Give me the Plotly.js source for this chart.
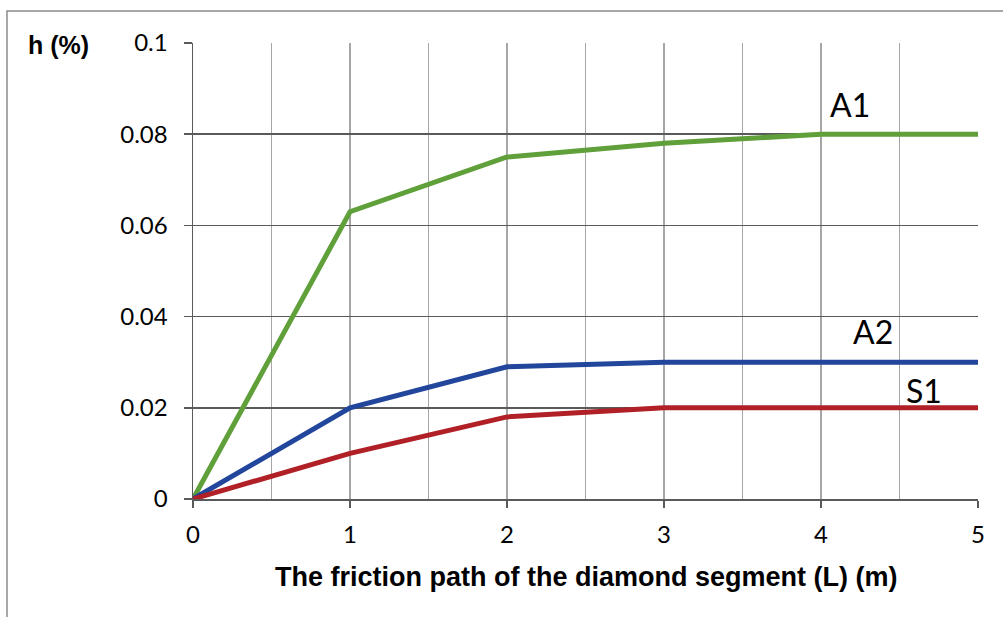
<!DOCTYPE html>
<html>
<head>
<meta charset="utf-8">
<script src="https://cdn.plot.ly/plotly-3.0.1.min.js"></script>
<style>
html,body{margin:0;padding:0;background:#fff;}
#chart{width:1003px;height:617px;}
</style>
</head>
<body>
<div id="chart"></div>
<script>
// Data
const pathL = [0, 1, 2, 3, 4, 5];
const hA1 = [0, 0.063, 0.075, 0.078, 0.080, 0.080];
const hA2 = [0, 0.020, 0.029, 0.030, 0.030, 0.030];
const hS1 = [0, 0.010, 0.018, 0.020, 0.020, 0.020];
const xTickVals = [0, 1, 2, 3, 4, 5];
const xMinorVals = [0.5, 1.5, 2.5, 3.5, 4.5];
const yTickVals = [0, 0.02, 0.04, 0.06, 0.08, 0.1];
const yTickText = ['0', '0.02', '0.04', '0.06', '0.08', '0.1'];
const seriesNames = ['A1', 'A2', 'S1'];

const labelFont = {family: 'Lato, "Open Sans", sans-serif', size: 32, color: '#000'};
const tickFont = {family: 'Lato, "Open Sans", sans-serif', size: 24, color: '#000'};
const titleFont = {family: '"Liberation Sans", Arial, sans-serif', size: 27, color: '#000', weight: 'bold'};
const yTitleFont = {family: '"Liberation Sans", Arial, sans-serif', size: 25, color: '#000', weight: 'bold'};

const traces = [
  {x: pathL, y: hA1, name: seriesNames[0], mode: 'lines', line: {color: 'rgb(96,160,58)', width: 5}},
  {x: pathL, y: hA2, name: seriesNames[1], mode: 'lines', line: {color: 'rgb(34,70,156)', width: 5}},
  {x: pathL, y: hS1, name: seriesNames[2], mode: 'lines', line: {color: 'rgb(176,32,38)', width: 5}}
];

const layout = {
  width: 1003, height: 617,
  margin: {l: 193, r: 25, t: 43, b: 118},
  paper_bgcolor: '#fff', plot_bgcolor: '#fff',
  showlegend: false,
  xaxis: {
    range: [0, 5], tickmode: 'array', tickvals: xTickVals,
    ticks: 'outside', ticklen: 7, tickwidth: 1.5, tickcolor: '#5a5a5a',
    showgrid: true, gridcolor: '#a6a6a6', gridwidth: 1.5,
    minor: {tickmode: 'array', tickvals: xMinorVals, showgrid: true, gridcolor: '#a6a6a6', gridwidth: 1.5, ticks: ''},
    showline: true, linecolor: '#5a5a5a', linewidth: 1.5,
    zeroline: false, tickfont: tickFont, ticklabelstandoff: 7
  },
  yaxis: {
    range: [0, 0.1], tickmode: 'array', tickvals: yTickVals, ticktext: yTickText,
    ticks: 'outside', ticklen: 8, tickwidth: 1.5, tickcolor: '#5a5a5a',
    showgrid: true, gridcolor: '#5a5a5a', gridwidth: 1.5,
    showline: true, linecolor: '#5a5a5a', linewidth: 1.5,
    zeroline: false, tickfont: tickFont, ticklabelstandoff: 11
  },
  shapes: [
    {type: 'rect', xref: 'paper', yref: 'paper',
     x0: (7 - 193) / 785, x1: (1020 - 193) / 785, y0: (499 - 640) / 456, y1: (499 - 11) / 456,
     line: {color: '#8c8c8c', width: 1.5}, fillcolor: 'rgba(0,0,0,0)', layer: 'below'}
  ],
  annotations: [
    {text: 'h (%)', xref: 'paper', yref: 'paper', x: (58 - 193) / 785, y: (499 - 45) / 456,
     xanchor: 'center', yanchor: 'middle', showarrow: false, font: yTitleFont},
    {text: 'The friction path of the diamond segment (L) (m)', xref: 'paper', yref: 'paper',
     x: 0.5, y: (499 - 577) / 456, xanchor: 'center', yanchor: 'middle', showarrow: false, font: titleFont},
    {text: seriesNames[0], x: 4.185, y: 0.0866, xanchor: 'center', yanchor: 'middle', showarrow: false, font: labelFont},
    {text: seriesNames[1], x: 4.331, y: 0.0368, xanchor: 'center', yanchor: 'middle', showarrow: false, font: labelFont},
    {text: seriesNames[2], x: 4.653, y: 0.0237, xanchor: 'center', yanchor: 'middle', showarrow: false, font: labelFont}
  ]
};

Plotly.newPlot('chart', traces, layout, {displayModeBar: false, staticPlot: true});
</script>
</body>
</html>
